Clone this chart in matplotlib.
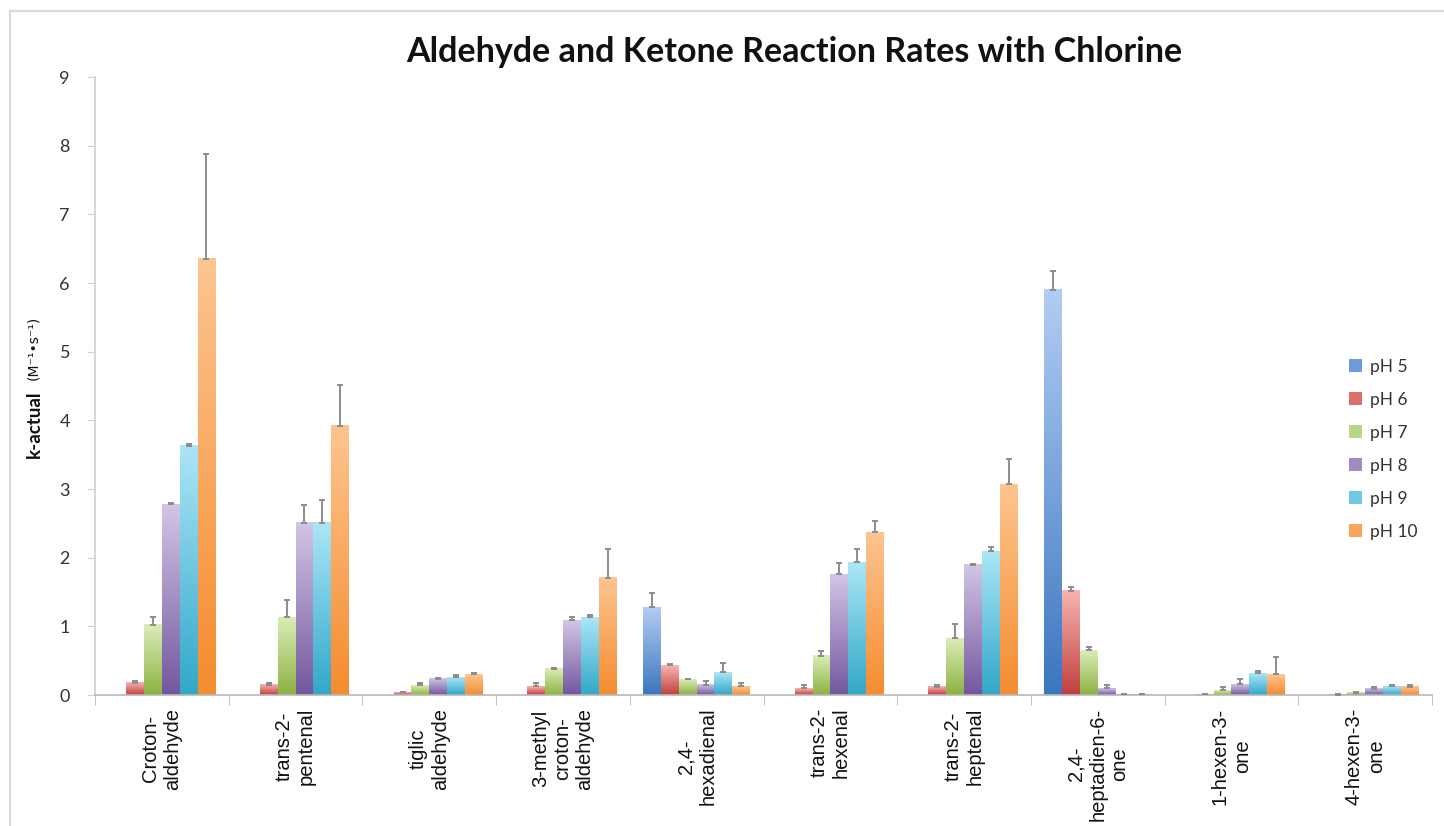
import numpy as np
import matplotlib
matplotlib.use('Agg')
import matplotlib.pyplot as plt
from matplotlib.patches import Patch, Rectangle
from matplotlib.colors import LinearSegmentedColormap

categories = ["Croton-\naldehyde", "trans-2-\npentenal", "tiglic\naldehyde",
              "3-methyl\ncroton-\naldehyde", "2,4-\nhexadienal", "trans-2-\nhexenal",
              "trans-2-\nheptenal", "2,4-\nheptadien-6-\none", "1-hexen-3-\none",
              "4-hexen-3-\none"]
series = ["pH 5", "pH 6", "pH 7", "pH 8", "pH 9", "pH 10"]

ph5 = [0, 0, 0, 0, 1.28, 0, 0, 5.90, 0, 0]
ph6 = [0.18, 0.15, 0.04, 0.13, 0.43, 0.10, 0.12, 1.52, 0.01, 0.005]
ph7 = [1.02, 1.13, 0.14, 0.38, 0.23, 0.57, 0.83, 0.65, 0.07, 0.03]
ph8 = [2.78, 2.51, 0.24, 1.09, 0.15, 1.76, 1.90, 0.10, 0.16, 0.09]
ph9 = [3.63, 2.51, 0.26, 1.13, 0.33, 1.93, 2.09, 0.01, 0.32, 0.13]
ph10 = [6.35, 3.92, 0.30, 1.71, 0.13, 2.37, 3.07, 0.01, 0.30, 0.12]

err5 = [0, 0, 0, 0, 0.21, 0, 0, 0.28, 0, 0]
err6 = [0.02, 0.03, 0.01, 0.04, 0.02, 0.04, 0.02, 0.05, 0.01, 0.01]
err7 = [0.11, 0.25, 0.04, 0.01, 0.01, 0.07, 0.20, 0.05, 0.05, 0.02]
err8 = [0.01, 0.25, 0.01, 0.04, 0.05, 0.16, 0.01, 0.04, 0.07, 0.02]
err9 = [0.02, 0.33, 0.03, 0.03, 0.14, 0.19, 0.06, 0.01, 0.03, 0.02]
err10 = [1.53, 0.60, 0.02, 0.42, 0.04, 0.17, 0.36, 0.01, 0.25, 0.02]

values = [ph5, ph6, ph7, ph8, ph9, ph10]
errors = [err5, err6, err7, err8, err9, err10]

# (top light, bottom dark) gradient colours per series
grad_colors = [("#b3cdf3", "#3b76c0"), ("#f6b6b3", "#c0403c"), ("#dcedb9", "#8bb241"),
               ("#d2c6e6", "#73579e"), ("#ace6f7", "#31a7c8"), ("#fdc590", "#f58c2f")]
legend_colors = ["#6f9bd8", "#df6d69", "#b8d786", "#a08bc3", "#6fc9e3", "#f9a65c"]

W, H = 1444, 826
fig = plt.figure(figsize=(W / 100, H / 100), dpi=100)
ax = fig.add_axes([95 / W, (H - 695) / H, (1432 - 95) / W, (695 - 77) / H])

n = len(series)
width = 0.8 / n
x = np.arange(len(categories))
grad = np.linspace(0, 1, 256).reshape(-1, 1)

for i, (vals, errs) in enumerate(zip(values, errors)):
    pos = x - 0.4 + width * (i + 0.5)
    bars = ax.bar(pos, vals, width, color='none', edgecolor='none', zorder=2)
    cmap = LinearSegmentedColormap.from_list("g%d" % i, [grad_colors[i][1], grad_colors[i][0]])
    for b in bars:
        h = b.get_height()
        if h <= 0:
            continue
        ax.imshow(grad, extent=[b.get_x(), b.get_x() + b.get_width(), 0, h],
                  aspect='auto', cmap=cmap, origin='lower', zorder=2, interpolation='bilinear')
    vals_a = np.array(vals)
    errs_a = np.array(errs)
    mask = vals_a > 0
    ax.errorbar(pos[mask], vals_a[mask], yerr=[np.zeros(mask.sum()), errs_a[mask]],
                fmt='none', ecolor='#8c8c8c', elinewidth=1.4, capsize=2, capthick=1.4, zorder=3)

ax.set_xlim(-0.5, len(categories) - 0.5)
ax.set_ylim(0, 9)
ax.set_yticks(range(0, 10))

for s in ['top', 'right']:
    ax.spines[s].set_visible(False)
ax.spines['left'].set_color('#d0d0d0')
ax.spines['bottom'].set_color('#b8b8b8')
ax.spines['left'].set_linewidth(1.2)
ax.spines['bottom'].set_linewidth(1.2)

ax.tick_params(axis='y', direction='out', length=6, color='#d0d0d0', labelsize=13,
               labelcolor='#333333', pad=12)
for lab in ax.get_yticklabels():
    lab.set_family('Lato')

ax.set_xticks(x)
ax.set_xticklabels(categories, rotation=90, multialignment='center', fontsize=14.5,
                   family='Liberation Sans', color='#111111')
ax.tick_params(axis='x', which='major', length=0, pad=9)
ax.set_xticks(np.arange(-0.5, len(categories), 1), minor=True)
ax.tick_params(axis='x', which='minor', direction='out', length=7, color='#b8b8b8')

fig.text(794 / W, 1 - 52 / H, "Aldehyde and Ketone Reaction Rates with Chlorine",
         ha='center', va='center', fontsize=24.5, fontweight='bold', family='Lato', color='#111111')

fig.text(34 / W, 1 - 458 / H, "k-actual", rotation=90, ha='center', va='bottom',
         fontsize=13.5, fontweight='bold', family='Lato', color='#111111')
fig.text(33 / W, 1 - 380 / H, "(M\u207b\u00b9\u2022s\u207b\u00b9)", rotation=90, ha='center', va='bottom',
         fontsize=10, family='DejaVu Sans', color='#111111')

handles = [Patch(facecolor=c, edgecolor='none') for c in legend_colors]
leg = fig.legend(handles, series, loc='upper left', bbox_to_anchor=(1333 / W, 1 - 343 / H),
                 frameon=False, handlelength=0.75, handleheight=0.75,
                 handletextpad=0.5, labelspacing=0.98, prop={'family': 'Lato', 'size': 12.5})
for t in leg.get_texts():
    t.set_color('#333333')

fig.patches.append(Rectangle((10 / W, -0.1), 1.2, 1 - 11 / H + 0.1, transform=fig.transFigure,
                             fill=False, edgecolor='#d9d9d9', linewidth=1.5, zorder=0))

fig.savefig('out.png', dpi=100)
